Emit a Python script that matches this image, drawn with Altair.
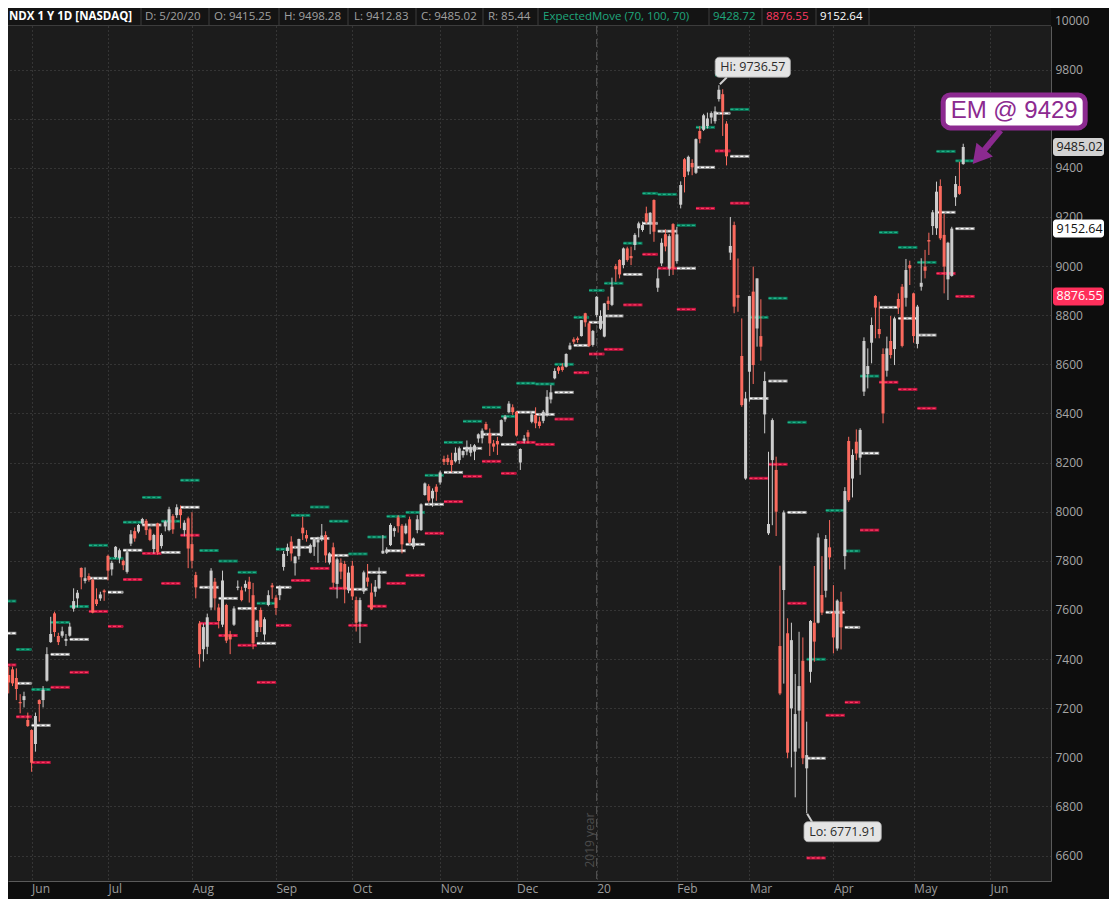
import altair as alt
import pandas as pd

# ---------------- data (NDX daily, trading-day index: Jun 3 2019 = 0) ----------------
first_idx = -7

opens = [
    7416, 7335, 7358, 7323, 7225, 7233, 7152, 7111, 7054, 7233,
    7233, 7312, 7469, 7586, 7494, 7495, 7474, 7495, 7605, 7647,
    7771, 7718, 7738, 7722, 7643, 7647, 7679, 7820, 7765, 7815,
    7812, 7800, 7755, 7870, 7921, 7919, 7952, 7963, 7928, 7848,
    7952, 7860, 7940, 7925, 7982, 7986, 8010, 7925, 7973, 7868,
    7742, 7545, 7440, 7450, 7610, 7715, 7610, 7540, 7620, 7500,
    7540, 7690, 7680, 7690, 7715, 7660, 7510, 7600, 7500, 7620,
    7700, 7650, 7660, 7775, 7840, 7878, 7790, 7819, 7935, 7905,
    7833, 7857, 7875, 7895, 7905, 7793, 7855, 7706, 7792, 7787,
    7680, 7780, 7640, 7552, 7675, 7732, 7671, 7674, 7688, 7830,
    7833, 7864, 7921, 7977, 7943, 7912, 7969, 7857, 7925, 7925,
    8068, 8104, 8054, 8102, 8119, 8215, 8218, 8210, 8205, 8210,
    8230, 8245, 8240, 8245, 8298, 8299, 8357, 8319, 8278, 8288,
    8308, 8376, 8405, 8425, 8407, 8200, 8289, 8323, 8366, 8394,
    8367, 8370, 8398, 8457, 8543, 8588, 8591, 8590, 8661, 8702,
    8706, 8715, 8808, 8767, 8679, 8801, 8745, 8713, 8859, 8842,
    9000, 9025, 9004, 9072, 9041, 9086, 9154, 9147, 9215, 9171,
    9269, 8912, 9011, 9130, 8990, 9171, 9020, 9250, 9435, 9385,
    9420, 9380, 9550, 9555, 9570, 9605, 9590, 9680, 9700, 9580,
    9055, 9167, 8882, 8634, 8135, 8570, 8896, 8746, 8715, 8396,
    7912, 8210, 8170, 7453, 7681, 7505, 7199, 7023, 7190, 7393,
    6955, 7348, 7548, 7548, 7661, 7678, 7855, 7589, 7443, 7633,
    7819, 8288, 8135, 8285, 8220, 8489, 8560, 8688, 8878, 8744,
    8642, 8574, 8695, 8662, 8866, 8916, 8871, 9004, 8889, 8683,
    8916, 8998, 9106, 9163, 9154, 9326, 9127, 8946, 8960, 9280,
    9326, 9415.25,
]
highs = [
    7470, 7369, 7369, 7362, 7257, 7267, 7182, 7114, 7182, 7236,
    7290, 7448, 7572, 7593, 7507, 7532, 7502, 7548, 7688, 7681,
    7773, 7773, 7749, 7728, 7688, 7674, 7684, 7825, 7800, 7860,
    7850, 7805, 7840, 7925, 7936, 7950, 7975, 7970, 7935, 7910,
    7955, 7912, 7965, 8020, 7990, 8030, 8025, 7965, 7980, 7998,
    7755, 7555, 7545, 7585, 7770, 7730, 7625, 7760, 7625, 7515,
    7615, 7720, 7695, 7720, 7735, 7710, 7560, 7610, 7570, 7680,
    7710, 7660, 7700, 7840, 7870, 7900, 7820, 7890, 7980, 7925,
    7870, 7890, 7898, 7950, 7920, 7835, 7874, 7813, 7810, 7800,
    7776, 7800, 7654, 7650, 7760, 7787, 7708, 7722, 7773, 7905,
    7855, 7953, 7940, 7986, 7950, 7952, 7980, 7895, 7986, 8034,
    8119, 8112, 8095, 8112, 8167, 8228, 8232, 8240, 8262, 8265,
    8250, 8290, 8275, 8275, 8319, 8339, 8366, 8339, 8292, 8305,
    8376, 8394, 8450, 8437, 8410, 8258, 8312, 8333, 8405, 8425,
    8387, 8414, 8495, 8516, 8584, 8593, 8604, 8645, 8688, 8710,
    8713, 8780, 8810, 8774, 8740, 8878, 8820, 8850, 8876, 8953,
    9009, 9028, 9076, 9079, 9079, 9134, 9181, 9181, 9242, 9220,
    9272, 8990, 9113, 9150, 9130, 9175, 9160, 9345, 9440, 9450,
    9435, 9520, 9570, 9620, 9625, 9630, 9650, 9736.57, 9720, 9590,
    9200, 9181, 9031, 8787, 8488, 8878, 8998, 8950, 8865, 8570,
    8244, 8380, 8224, 7780, 8005, 7566, 7548, 7339, 7511, 7488,
    7145, 7559, 7779, 7912, 7819, 7905, 7966, 7701, 7643, 7674,
    8100, 8305, 8254, 8335, 8340, 8710, 8665, 8791, 8882, 8855,
    8665, 8713, 8797, 8794, 8889, 8927, 9029, 9022, 8892, 8842,
    9032, 9066, 9136, 9228, 9344, 9353, 9212, 9099, 9160, 9367,
    9425, 9498.28,
]
lows = [
    7405, 7260, 7290, 7233, 7179, 7203, 7124, 6941, 7023, 7145,
    7203, 7308, 7466, 7491, 7457, 7487, 7453, 7491, 7593, 7610,
    7684, 7708, 7715, 7586, 7616, 7637, 7637, 7720, 7740, 7810,
    7790, 7762, 7748, 7860, 7878, 7912, 7945, 7905, 7880, 7830,
    7825, 7850, 7920, 7920, 7910, 7975, 7932, 7900, 7770, 7769,
    7647, 7365, 7390, 7420, 7600, 7600, 7525, 7530, 7465, 7420,
    7535, 7680, 7635, 7675, 7630, 7440, 7490, 7510, 7475, 7615,
    7645, 7580, 7640, 7760, 7820, 7800, 7740, 7805, 7885, 7878,
    7830, 7820, 7792, 7880, 7792, 7785, 7688, 7647, 7725, 7627,
    7668, 7640, 7512, 7465, 7665, 7695, 7600, 7654, 7684, 7828,
    7828, 7860, 7898, 7915, 7830, 7908, 7871, 7847, 7912, 7922,
    8065, 8037, 8020, 8044, 8110, 8190, 8190, 8160, 8200, 8195,
    8220, 8230, 8225, 8210, 8281, 8278, 8332, 8227, 8244, 8231,
    8305, 8366, 8400, 8394, 8306, 8170, 8278, 8278, 8360, 8340,
    8339, 8360, 8387, 8441, 8539, 8561, 8570, 8587, 8658, 8683,
    8688, 8713, 8753, 8670, 8672, 8792, 8740, 8710, 8821, 8837,
    8936, 8950, 8991, 9018, 9004, 9065, 9117, 9140, 9174, 9130,
    9099, 8895, 9000, 9060, 8960, 8964, 9010, 9235, 9300, 9370,
    9370, 9375, 9500, 9550, 9560, 9580, 9580, 9670, 9530, 9410,
    9025, 8808, 8814, 8427, 8130, 8448, 8520, 8672, 8615, 8319,
    7905, 7945, 7901, 7253, 7300, 6996, 6959, 6837, 7036, 6972,
    6771.91, 7304, 7389, 7545, 7579, 7651, 7765, 7423, 7434, 7439,
    7765, 8040, 8058, 8210, 8150, 8471, 8502, 8604, 8706, 8706,
    8360, 8550, 8624, 8597, 8805, 8669, 8835, 8923, 8688, 8665,
    8900, 8950, 9045, 9127, 9127, 9106, 8889, 8862, 8957, 9245,
    9290, 9412.83,
]
closes = [
    7461, 7305, 7301, 7278, 7220, 7249, 7127, 6978, 7168, 7217,
    7274, 7420, 7502, 7510, 7469, 7513, 7482, 7532, 7636, 7670,
    7733, 7729, 7722, 7589, 7624, 7663, 7672, 7760, 7792, 7857,
    7843, 7782, 7835, 7908, 7891, 7946, 7970, 7925, 7885, 7905,
    7835, 7905, 7960, 8010, 7928, 8018, 7986, 7955, 7850, 7800,
    7692, 7420, 7530, 7570, 7760, 7647, 7555, 7720, 7475, 7480,
    7606, 7695, 7640, 7706, 7685, 7464, 7556, 7530, 7562, 7660,
    7692, 7608, 7695, 7828, 7855, 7830, 7817, 7889, 7912, 7891,
    7864, 7887, 7885, 7903, 7822, 7830, 7711, 7806, 7756, 7684,
    7752, 7655, 7548, 7640, 7753, 7715, 7602, 7695, 7742, 7841,
    7846, 7946, 7933, 7941, 7867, 7943, 7874, 7891, 7969, 8030,
    8115, 8045, 8085, 8081, 8160, 8203, 8202, 8190, 8240, 8258,
    8247, 8264, 8262, 8270, 8315, 8330, 8335, 8278, 8265, 8274,
    8373, 8387, 8440, 8405, 8310, 8255, 8298, 8305, 8396, 8360,
    8349, 8407, 8468, 8486, 8573, 8574, 8577, 8642, 8677, 8692,
    8699, 8780, 8771, 8675, 8736, 8875, 8797, 8848, 8846, 8916,
    8987, 8966, 9072, 9025, 9032, 9127, 9174, 9167, 9181, 9217,
    9140, 8950, 9095, 9080, 9122, 8991, 9129, 9330, 9363, 9445,
    9402, 9517, 9518, 9614, 9601, 9623, 9630, 9718, 9629, 9447,
    9082, 8835, 8871, 8434, 8461, 8878, 8597, 8950, 8672, 8532,
    7950, 8373, 8000, 7260, 7997, 7019, 7477, 7176, 7290, 6996,
    7009, 7555, 7471, 7895, 7589, 7889, 7814, 7488, 7638, 7529,
    8084, 8047, 8231, 8237, 8333, 8695, 8593, 8760, 8831, 8723,
    8400, 8665, 8638, 8787, 8831, 8675, 8984, 8991, 8715, 8835,
    8932, 8981, 9100, 9219, 9303, 9113, 8998, 9095, 9152.64, 9334,
    9294, 9485.02,
]

# weekly ExpectedMove study: week start / next week start (trading-day index)
em_start = [-9, -4, 0, 5, 10, 15, 20, 24, 29, 34, 39, 44, 49, 54, 59, 64, 68, 73, 78, 83,
            88, 93, 98, 103, 108, 113, 118, 123, 127, 132, 137, 142, 146, 150, 155, 160, 164,
            169, 174, 179, 183, 188, 193, 198, 203, 208, 213, 217, 222, 227, 232, 237, 242]
em_end = [-4, 0, 5, 10, 15, 20, 24, 29, 34, 39, 44, 49, 54, 59, 64, 68, 73, 78, 83, 88,
          93, 98, 103, 108, 113, 118, 123, 127, 132, 137, 142, 146, 150, 155, 160, 164, 169,
          174, 179, 183, 188, 193, 198, 203, 208, 213, 217, 222, 227, 232, 237, 242, 247]
em_upper = [7636, 7439, 7276, 7549, 7614, 7863, 7810, 7957, 8058, 7961, 8128, 7842, 7799, 7753,
            7627, 7847, 7985, 8019, 7961, 7828, 7897, 7981, 7997, 8148, 8282, 8368, 8425, 8388,
            8523, 8520, 8600, 8791, 8901, 8930, 9093, 9296, 9292, 9166, 9565, 9778, 9638, 8791,
            8869, 8364, 7399, 8005, 7840, 8552, 9137, 9076, 9015, 9467, 9428.72]
em_center = [7505, 7301, 7130, 7419, 7480, 7729, 7672, 7843, 7946, 7834, 8018, 7692, 7647, 7606,
             7464, 7692, 7855, 7891, 7822, 7684, 7753, 7841, 7867, 8030, 8160, 8258, 8315, 8274,
             8405, 8396, 8486, 8677, 8771, 8797, 8966, 9174, 9142, 8991, 9402, 9622, 9447, 8461,
             8532, 7997, 6996, 7590, 7529, 8238, 8832, 8787, 8719, 9219, 9152.64]
em_lower = [7376, 7165, 6979, 7285, 7346, 7594, 7533, 7724, 7830, 7708, 7904, 7545, 7496, 7456,
            7305, 7537, 7720, 7769, 7688, 7537, 7615, 7708, 7741, 7912, 8041, 8144, 8205, 8156,
            8282, 8274, 8377, 8566, 8642, 8661, 8842, 9048, 8991, 8824, 9235, 9469, 9256, 8136,
            8193, 7627, 6590, 7171, 7224, 7925, 8527, 8498, 8421, 8970, 8876.55]

month_idx = [0, 20, 42, 64, 84, 107, 127, 148, 169, 188, 210, 231, 251]
month_labels = ["Jun", "Jul", "Aug", "Sep", "Oct", "Nov", "Dec", "20", "Feb", "Mar", "Apr", "May", "Jun"]
price_ticks = [6600, 6800, 7000, 7200, 7400, 7600, 7800, 8000, 8200, 8400, 8600, 8800,
               9000, 9200, 9400, 9600, 9800]
hidden_tick = 9600  # label covered by the EM callout in the original
top_label = "10000"

n = len(opens)
assert len(highs) == n and len(lows) == n and len(closes) == n
assert len(em_start) == len(em_end) == len(em_upper) == len(em_center) == len(em_lower)

days = list(range(first_idx, first_idx + n))
candles = pd.DataFrame({"idx": days, "open": opens, "high": highs, "low": lows, "close": closes})
em = pd.DataFrame({"start": em_start, "end": em_end, "upper": em_upper,
                   "center": em_center, "lower": em_lower})

hi_val = max(highs)
hi_i = days[highs.index(hi_val)]
lo_val = min(lows)
lo_i = days[lows.index(lo_val)]
hi_df = pd.DataFrame({"idx": [hi_i], "price": [hi_val], "label": [f"Hi: {hi_val:.2f}"]})
lo_df = pd.DataFrame({"idx": [lo_i], "price": [lo_val], "label": [f"Lo: {lo_val:.2f}"]})
em_df = pd.DataFrame({"idx": [em_end[-1]], "price": [em_upper[-1]],
                      "label": [f"EM @ {round(em_upper[-1])}"]})
year_df = pd.DataFrame({"idx": [month_idx[7]], "price": [6663], "label": ["2019 year"]})
one = pd.DataFrame({"k": [0]})

# ---------------- layout ----------------
W, H = 1043, 855
XDOM = [-4.877, 265.68]
YDOM = [6496.3, 9977.6]
xscale = alt.Scale(domain=XDOM, nice=False, zero=False)
yscale = alt.Scale(domain=YDOM, nice=False, zero=False)

label_expr = ("[" + ",".join(f"'{m}'" for m in month_labels) + "][indexof(["
              + ",".join(str(v) for v in month_idx) + "], datum.value)]")
FONT = "Open Sans"
xaxis = alt.Axis(values=month_idx, labelExpr=label_expr, title=None, grid=True,
                 gridColor="#4e4e4e", gridDash=[1, 3], gridWidth=1, domainColor="#5a5a5a",
                 ticks=False, labelAlign="left", labelBaseline="top", labelPadding=2,
                 labelColor="#9c9c9c", labelFont=FONT, labelFontSize=12, labelFlush=False,
                 labelOverlap=False)
yaxis = alt.Axis(orient="right", values=price_ticks, title=None, grid=True, gridColor="#4e4e4e",
                 gridDash=[1, 3], gridWidth=1, domainColor="#5a5a5a", ticks=False,
                 labelPadding=4, labelAlign="left", labelBaseline="middle", format="d",
                 labelExpr=f"datum.value == {hidden_tick} ? '' : datum.label",
                 labelColor="#a6a6a6", labelFont=FONT, labelFontSize=12, labelOverlap=False)


def X(f):
    return alt.X(f, scale=xscale, axis=xaxis)


def Y(f):
    return alt.Y(f, scale=yscale, axis=yaxis)


UP = "#cdcdcd"
DOWN = "#fb6a5e"
PURPLE = "#8c2a90"
layers = []

# year separator
layers.append(alt.Chart(year_df).mark_rule(color="#5c5c5c", strokeDash=[8, 5], strokeWidth=1)
              .encode(x=X("idx:Q")))
layers.append(alt.Chart(year_df).mark_text(angle=270, color="#4c4c4c", fontSize=12, font=FONT,
                                           align="center", baseline="bottom")
              .encode(x=X("idx:Q"), y=Y("price:Q"), text="label:N"))

# expected move markers
for field, base, dash in [("upper", "#0a7356", "#22b489"),
                          ("lower", "#b8133d", "#ff3a62"),
                          ("center", "#9a9a9a", "#ffffff")]:
    layers.append(alt.Chart(em).mark_rule(strokeWidth=3, color=base, clip=True)
                  .encode(x=X("start:Q"), x2="end", y=Y(f"{field}:Q")))
    layers.append(alt.Chart(em).mark_rule(strokeWidth=1.3, color=dash, strokeDash=[3, 2], clip=True)
                  .encode(x=X("start:Q"), x2="end", y=Y(f"{field}:Q")))

# candles
col = alt.condition("datum.close >= datum.open", alt.value(UP), alt.value(DOWN))
layers.append(alt.Chart(candles).mark_rule(strokeWidth=1, clip=True)
              .encode(x=X("idx:Q"), y=Y("low:Q"), y2="high", color=col))
layers.append(alt.Chart(candles).mark_bar(size=3, clip=True)
              .encode(x=X("idx:Q"), y=Y("open:Q"), y2="close", color=col))

# Hi / Lo labels
for df, bx, by, tdx, tdy, tail in [
        (hi_df, (-3.7, 71.5), (-28, -8), 34, -18, (8, -8, 1, -1)),
        (lo_df, (-2.7, 74.6), (8.4, 28.4), 36, 18.4, (5.5, 8.6, 0.5, 0.5))]:
    layers.append(alt.Chart(df).mark_rule(color="#cfcfcf", strokeWidth=2,
                                          xOffset=tail[0], yOffset=tail[1],
                                          x2Offset=tail[2], y2Offset=tail[3])
                  .encode(x=X("idx:Q"), y=Y("price:Q"), x2="idx", y2="price"))
    layers.append(alt.Chart(df).mark_rect(fill="#e4e4e4", stroke="#a8a8a8", strokeWidth=0.8,
                                          cornerRadius=4, xOffset=bx[0], x2Offset=bx[1],
                                          yOffset=by[0], y2Offset=by[1])
                  .encode(x=X("idx:Q"), x2="idx", y=Y("price:Q"), y2="price"))
    layers.append(alt.Chart(df).mark_text(color="#2b2b2b", fontSize=12.5, font=FONT, dx=tdx, dy=tdy,
                                          align="center", baseline="middle")
                  .encode(x=X("idx:Q"), y=Y("price:Q"), text="label:N"))

# EM callout
layers.append(alt.Chart(em_df).mark_rule(color=PURPLE, strokeWidth=6, xOffset=26, yOffset=-30.4,
                                         x2Offset=6, y2Offset=-6.4)
              .encode(x=X("idx:Q"), y=Y("price:Q"), x2="idx", y2="price"))
layers.append(alt.Chart(em_df).mark_point(shape="triangle", angle=220, size=460, filled=True,
                                          color=PURPLE, opacity=1, xOffset=6, yOffset=-6.4)
              .encode(x=X("idx:Q"), y=Y("price:Q")))
layers.append(alt.Chart(em_df).mark_rect(fill="#ffffff", stroke=PURPLE, strokeWidth=5,
                                         cornerRadius=7, xOffset=-31.5, x2Offset=110.5,
                                         yOffset=-65.9, y2Offset=-32.9)
              .encode(x=X("idx:Q"), x2="idx", y=Y("price:Q"), y2="price"))
layers.append(alt.Chart(em_df).mark_text(color=PURPLE, fontSize=24, font="Liberation Sans",
                                         dx=39.5, dy=-49.4, align="center", baseline="middle")
              .encode(x=X("idx:Q"), y=Y("price:Q"), text="label:N"))

# price tags on the right axis
tag_df = pd.DataFrame({"price": [closes[-1], em_center[-1], em_lower[-1]]})
tag_df["label"] = [f"{v:.2f}" for v in tag_df["price"]]
for i, (fill, tcol) in enumerate([("#d2d2d2", "#1a1a1a"), ("#ffffff", "#111111"),
                                  ("#ff2f5b", "#ffffff")]):
    d = tag_df.iloc[[i]]
    layers.append(alt.Chart(d).mark_rect(fill=fill, cornerRadius=3, yOffset=-9, y2Offset=9)
                  .encode(x=alt.value(W + 2), x2=alt.value(W + 53), y=Y("price:Q"), y2="price"))
    layers.append(alt.Chart(d).mark_text(color=tcol, fontSize=12.5, font=FONT, align="left",
                                         baseline="middle")
                  .encode(x=alt.value(W + 5.5), y=Y("price:Q"), text="label:N"))

layers.append(alt.Chart(one).mark_text(text=top_label, color="#a6a6a6", fontSize=12, font=FONT,
                                       align="left", baseline="middle")
              .encode(x=alt.value(W + 4), y=alt.value(-5.5)))

# header bar
layers.append(alt.Chart(one).mark_rect(color="#141414")
              .encode(x=alt.value(0), x2=alt.value(W), y=alt.value(-18), y2=alt.value(0)))
layers.append(alt.Chart(one).mark_rule(color="#3c3c3c", strokeWidth=1)
              .encode(x=alt.value(0), x2=alt.value(W), y=alt.value(-0.5)))
for sx in [133, 201, 271, 340, 408, 475, 530, 701, 754, 808, 861]:
    layers.append(alt.Chart(one).mark_rule(color="#3c3c3c", strokeWidth=1)
                  .encode(x=alt.value(sx), y=alt.value(-18), y2=alt.value(0)))

header_items = [
    ("NDX 1 Y 1D [NASDAQ]", 1, "#ffffff", "bold", 11.5),
    ("D: 5/20/20", 137, "#a0a0a0", "normal", 11.5),
    (f"O: {opens[-1]:.2f}", 206, "#a0a0a0", "normal", 11.5),
    (f"H: {highs[-1]:.2f}", 276, "#a0a0a0", "normal", 11.5),
    (f"L: {lows[-1]:.2f}", 346, "#a0a0a0", "normal", 11.5),
    (f"C: {closes[-1]:.2f}", 413, "#a0a0a0", "normal", 11.5),
    ("R: 85.44", 480, "#a0a0a0", "normal", 11.5),
    ("ExpectedMove (70, 100, 70)", 535, "#1fa77c", "normal", 11.5),
    (f"{em_upper[-1]:.2f}", 705, "#1fa77c", "normal", 11.5),
    (f"{em_lower[-1]:.2f}", 758, "#ff3a62", "normal", 11.5),
    (f"{em_center[-1]:.2f}", 812, "#ffffff", "normal", 11.5),
]
for txt, hx, hc, hw, hs in header_items:
    layers.append(alt.Chart(one).mark_text(text=txt, color=hc, fontSize=hs, font=FONT,
                                           fontWeight=hw, align="left", baseline="middle")
                  .encode(x=alt.value(hx), y=alt.value(-9)))

chart = (alt.layer(*layers)
         .properties(width=W, height=H, background="#0d0d0d",
                     padding={"left": 0, "top": 18, "right": 58, "bottom": 18},
                     autosize=alt.AutoSizeParams(type="none"))
         .configure_view(fill="#1c1c1c", strokeWidth=0))

chart.save("out.html", embed_options={"renderer": "svg", "actions": False})
